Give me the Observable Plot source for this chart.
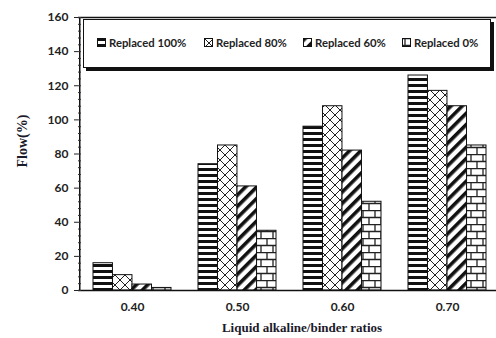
<!DOCTYPE html>
<html>
<head>
<meta charset="utf-8">
<script src="https://cdn.jsdelivr.net/npm/d3@7"></script>
<script src="https://cdn.jsdelivr.net/npm/@observablehq/plot@0.6"></script>
<style>
  html, body { margin: 0; padding: 0; background: #fff; }
  #wrap { position: relative; width: 496px; height: 338px; overflow: hidden; }
  #legend { position: absolute; left: 83px; top: 19px; width: 406px; height: 47px;
    border: 1.5px solid #111; background: #fff; box-shadow: 3px 3px 0 #111; }
  .item { position: absolute; top: 16px; display: flex; align-items: center;
    font: bold 11.3px Lato, sans-serif; color: #222; white-space: nowrap; }
  .item svg { margin-right: 2px; }
</style>
</head>
<body>
<div id="wrap"></div>
<script>
const ratios = ["0.40", "0.50", "0.60", "0.70"];
const seriesNames = ["Replaced 100%", "Replaced 80%", "Replaced 60%", "Replaced 0%"];
const replaced100 = [16, 74, 96, 126];
const replaced80 = [9, 85, 108, 117];
const replaced60 = [3.5, 61, 82, 108];
const replaced0 = [1.5, 35, 52, 85];
const yTicks = [0, 20, 40, 60, 80, 100, 120, 140, 160];

const seriesValues = [replaced100, replaced80, replaced60, replaced0];
const patternIds = ["p100", "p80", "p60", "p0"];

const W = 496, H = 338, mL = 78, mR = -4, mT = 17, mB = 48;
const pInner = 0.26, pOuter = 0.13;
const innerW = W - mL - mR;
const step = innerW / (ratios.length - pInner + 2 * pOuter);
const bw = step * (1 - pInner);
const q = bw / 4;

const minorTicks = d3.range(0, 161, 4);

const marks = [];
seriesValues.forEach((vals, i) => {
  const rows = ratios.map((r, j) => ({ratio: r, value: vals[j]}));
  marks.push(Plot.barY(rows, {
    x: "ratio", y: "value",
    fill: `url(#${patternIds[i]})`, stroke: "#111", strokeWidth: 1,
    insetLeft: i * q, insetRight: (3 - i) * q
  }));
});
marks.push(Plot.ruleY([0, 160], {stroke: "#111", strokeWidth: 1.5}));
marks.push(Plot.ruleX([0], {x: () => ratios[0], dx: -(bw / 2 + step * pOuter), y1: 0, y2: 160, stroke: "#111", strokeWidth: 1.5}));
marks.push(Plot.tickY(minorTicks, {y: d => d, stroke: "#333", strokeWidth: 1, insetLeft: 0, insetRight: innerW - 3}));

const chart = Plot.plot({
  width: W, height: H,
  marginLeft: mL, marginRight: mR, marginTop: mT, marginBottom: mB,
  style: {background: "white"},
  x: {type: "band", domain: ratios, paddingInner: pInner, paddingOuter: pOuter, label: null},
  y: {domain: [0, 160], label: null},
  marks: [
    Plot.axisX({tickSize: 0, tickPadding: 12, fontSize: 12, fontWeight: "bold", fontFamily: "Lato, sans-serif", fill: "#222", label: null}),
    Plot.axisY({ticks: yTicks, tickSize: 4, tickPadding: 6, fontSize: 12, fontWeight: "bold", fontFamily: "Lato, sans-serif", fill: "#222", stroke: "#222", label: null}),
    ...marks
  ]
});

const svg = d3.select(chart.tagName === "svg" ? chart : chart.querySelector("svg"));
const defs = svg.insert("defs", ":first-child");
let p = defs.append("pattern").attr("id", "p100").attr("patternUnits", "userSpaceOnUse").attr("width", 6).attr("height", 6);
p.append("rect").attr("width", 6).attr("height", 6).attr("fill", "#fff");
p.append("rect").attr("y", 0).attr("width", 6).attr("height", 3).attr("fill", "#111");
p = defs.append("pattern").attr("id", "p80").attr("patternUnits", "userSpaceOnUse").attr("width", 10).attr("height", 10);
p.append("rect").attr("width", 10).attr("height", 10).attr("fill", "#fff");
p.append("path").attr("d", "M0,0L10,10M10,0L0,10").attr("stroke", "#222").attr("stroke-width", 1).attr("fill", "none");
p = defs.append("pattern").attr("id", "p60").attr("patternUnits", "userSpaceOnUse").attr("width", 8).attr("height", 8).attr("patternTransform", "rotate(45)");
p.append("rect").attr("width", 8).attr("height", 8).attr("fill", "#fff");
p.append("rect").attr("width", 3.6).attr("height", 8).attr("fill", "#111");
p = defs.append("pattern").attr("id", "p0").attr("patternUnits", "userSpaceOnUse").attr("width", 12).attr("height", 14);
p.append("rect").attr("width", 12).attr("height", 14).attr("fill", "#fff");
p.append("path").attr("d", "M0,0.5H12M0,7.5H12M3,0.5V7.5M9,7.5V14").attr("stroke", "#222").attr("stroke-width", 1.3).attr("fill", "none");

svg.append("text").attr("x", 302).attr("y", 332).attr("text-anchor", "middle")
  .attr("font-family", "'Liberation Serif', 'Times New Roman', serif").attr("font-weight", "bold").attr("font-size", 13).attr("fill", "#1a1a2a")
  .text("Liquid alkaline/binder ratios");
svg.append("text").attr("transform", "translate(27,141) rotate(-90)").attr("text-anchor", "middle")
  .attr("font-family", "'Liberation Serif', 'Times New Roman', serif").attr("font-weight", "bold").attr("font-size", 14).attr("fill", "#1a1a2a")
  .text("Flow(%)");

const wrap = document.getElementById("wrap");
wrap.appendChild(chart);

const legend = document.createElement("div");
legend.id = "legend";
const offsets = [13, 120, 219, 318];
seriesNames.forEach((name, i) => {
  const it = document.createElement("div");
  it.className = "item";
  it.style.left = offsets[i] + "px";
  it.innerHTML = `<svg width="10" height="9"><rect x="0.5" y="0.5" width="8" height="8" fill="url(#${patternIds[i]})" stroke="#111" stroke-width="1"/></svg><span>${name}</span>`;
  legend.appendChild(it);
});
wrap.appendChild(legend);
</script>
</body>
</html>
